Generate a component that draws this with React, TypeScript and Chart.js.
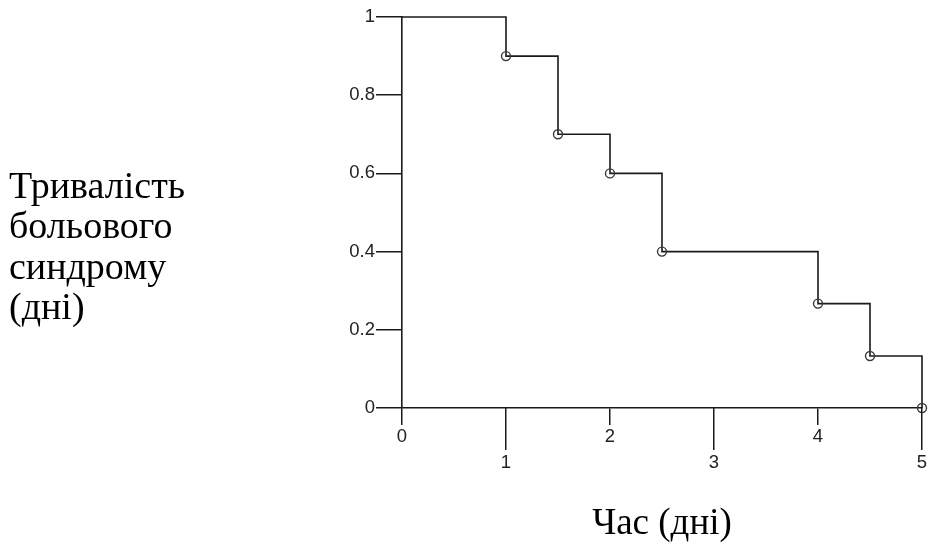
import React, { useEffect, useRef } from 'react';
import { Chart, registerables } from 'chart.js';

Chart.register(...registerables);

// ---- data ----
const times = [0, 1, 1.5, 2, 2.5, 4, 4.5, 5];
const survival = [1, 0.9, 0.7, 0.6, 0.4, 0.267, 0.133, 0];
const xTickValues = [0, 1, 2, 3, 4, 5];
const yTickValues = [0, 0.2, 0.4, 0.6, 0.8, 1];
const yTitleLines = ['Тривалість', 'больового', 'синдрому', '(дні)'];
const xTitle = 'Час (дні)';

const W = 928;
const H = 547;
const AXIS = '#1a1a1a';
const TICK_W = 1.5;

const isOdd = (v: number) => Math.round(v) % 2 === 1;

const leftTitlePlugin = {
  id: 'leftTitle',
  afterDraw(chart: any) {
    const ctx = chart.ctx;
    ctx.save();
    ctx.font = "38px 'Liberation Serif', 'Times New Roman', serif";
    ctx.fillStyle = '#000';
    ctx.textAlign = 'left';
    ctx.textBaseline = 'alphabetic';
    const base = 198;
    const step = 40.3;
    yTitleLines.forEach((line, i) => {
      ctx.fillText(line, 9, base + i * step);
    });
    ctx.restore();
  },
};

// odd x ticks are drawn longer (staggered labels)
const longTickPlugin = {
  id: 'longTicks',
  afterDraw(chart: any) {
    const xs = chart.scales.x;
    const ctx = chart.ctx;
    ctx.save();
    ctx.strokeStyle = AXIS;
    ctx.lineWidth = TICK_W;
    ctx.lineCap = 'butt';
    const y0 = xs.top;
    const y1 = xs.top + 42;
    const half = TICK_W / 2;
    xTickValues.forEach((v) => {
      if (isOdd(v)) {
        const raw = xs.getPixelForValue(v);
        const px = Math.round(raw - half) + half;
        ctx.beginPath();
        ctx.moveTo(px, y0);
        ctx.lineTo(px, y1);
        ctx.stroke();
      }
    });
    ctx.restore();
  },
};

export default function App() {
  const ref = useRef<HTMLCanvasElement | null>(null);

  useEffect(() => {
    if (!ref.current) return;
    const chart = new Chart(ref.current, {
      type: 'line',
      data: {
        datasets: [
          {
            data: times.map((t, i) => ({ x: t, y: survival[i] })),
            stepped: true,
            borderColor: '#1a1a1a',
            borderWidth: 1.6,
            fill: false,
            pointRadius: (c: any) => (c.dataIndex === 0 ? 0 : 4.5),
            pointBorderColor: '#3a3a3a',
            pointBackgroundColor: 'rgba(0,0,0,0)',
            pointBorderWidth: 1.4,
            clip: false as any,
          },
        ],
      },
      options: {
        responsive: false,
        animation: false,
        layout: { padding: { left: 0, right: 6, top: 17, bottom: 0 } },
        plugins: { legend: { display: false }, tooltip: { enabled: false } },
        scales: {
          x: {
            type: 'linear',
            min: 0,
            max: 5,
            afterBuildTicks: (s: any) => {
              s.ticks = xTickValues.map((v) => ({ value: v }));
            },
            afterFit: (s: any) => {
              s.height = H - 408;
            },
            grid: {
              drawOnChartArea: false,
              drawTicks: true,
              tickLength: 17,
              color: (c: any) => (c.tick && isOdd(c.tick.value) ? 'rgba(0,0,0,0)' : AXIS),
              lineWidth: TICK_W,
            },
            border: { display: true, color: AXIS, width: 1.6 },
            ticks: {
              maxRotation: 0,
              autoSkip: false,
              padding: -2,
              color: '#222',
              font: { family: "'Liberation Sans', Arial, sans-serif", size: 18.5, lineHeight: 1.45 },
              callback: (v: any) => (isOdd(Number(v)) ? ['', String(v)] : String(v)),
            },
            title: {
              display: true,
              text: xTitle,
              color: '#000',
              font: { family: "'Liberation Serif', 'Times New Roman', serif", size: 37 },
              padding: { top: 0, bottom: 1 },
            },
          },
          y: {
            type: 'linear',
            min: 0,
            max: 1,
            afterBuildTicks: (s: any) => {
              s.ticks = yTickValues.map((v) => ({ value: v }));
            },
            afterFit: (s: any) => {
              s.width = 402;
            },
            grid: {
              drawOnChartArea: false,
              drawTicks: true,
              tickLength: 26,
              color: AXIS,
              lineWidth: TICK_W,
            },
            border: { display: true, color: AXIS, width: 1.6 },
            ticks: {
              padding: 1,
              color: '#222',
              font: { family: "'Liberation Sans', Arial, sans-serif", size: 18.5 },
              callback: (v: any) => String(Math.round(Number(v) * 10) / 10),
            },
          },
        },
      },
      plugins: [leftTitlePlugin, longTickPlugin],
    } as any);
    return () => chart.destroy();
  }, []);

  return (
    <div style={{ position: 'fixed', left: 0, top: 0, width: W, height: H, background: '#fff' }}>
      <canvas ref={ref} width={W} height={H} style={{ display: 'block', width: W, height: H }} />
    </div>
  );
}
